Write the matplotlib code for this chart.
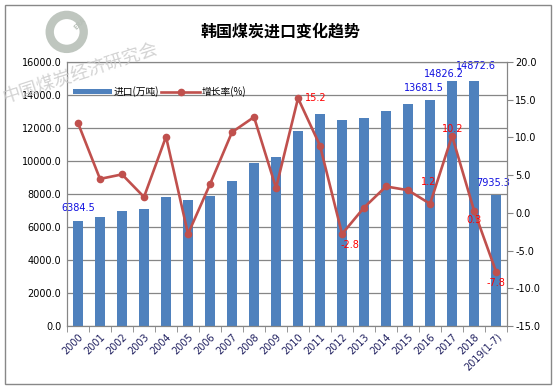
import matplotlib.pyplot as plt
from matplotlib.patches import Ellipse, Rectangle
import numpy as np

plt.rcParams['font.family'] = ['Noto Sans CJK SC', 'DejaVu Sans']

# 数据
years = ['2000', '2001', '2002', '2003', '2004', '2005', '2006', '2007', '2008', '2009',
         '2010', '2011', '2012', '2013', '2014', '2015', '2016', '2017', '2018', '2019(1-7)']
imports = [6384.5, 6600, 6990, 7100, 7820, 7640, 7900, 8790, 9900, 10260,
           11820, 12850, 12480, 12630, 13050, 13460, 13681.5, 14826.2, 14872.6, 7935.3]
growth = [11.9, 4.5, 5.1, 2.1, 10.1, -2.8, 3.8, 10.7, 12.7, 3.3,
          15.2, 8.9, -2.8, 0.7, 3.5, 3.0, 1.2, 10.2, 0.3, -7.8]
imp_labels = {0: '6384.5', 16: '13681.5', 17: '14826.2', 18: '14872.6', 19: '7935.3'}
gr_labels = {10: '15.2', 12: '-2.8', 16: '1.2', 17: '10.2', 18: '0.3', 19: '-7.8'}

bar_c = '#4f81bd'
line_c = '#c0504d'
grid_c = '#868686'

fig = plt.figure(figsize=(5.56, 3.89), dpi=100)
fig.patches.append(Rectangle((0.009, 0.012), 0.982, 0.976, transform=fig.transFigure,
                             fill=False, edgecolor='#888888', linewidth=1.0))

ax = fig.add_axes([0.1205, 0.162, 0.7915, 0.6786])
x = np.arange(len(years))
ax.bar(x, imports, width=0.42, color=bar_c, zorder=2, label='进口(万吨)')
ax.set_ylim(0, 16000)
ax.set_yticks(np.arange(0, 16001, 2000))
ax.set_yticklabels([f'{v:.1f}' for v in np.arange(0, 16001, 2000)], fontsize=7,
                   family='DejaVu Sans')
ax.set_xlim(-0.5, len(years) - 0.5)
ax.set_xticks(np.arange(-0.5, len(years), 1), minor=True)
ax.set_xticks(x)
ax.set_xticklabels(years, rotation=45, ha='right', rotation_mode='anchor',
                   fontsize=7, color='#1f1f5f', family='DejaVu Sans')
ax.tick_params(axis='x', which='major', length=0, pad=4)
ax.tick_params(axis='x', which='minor', length=4, color=grid_c)
ax.tick_params(axis='y', length=0, pad=4)
ax.yaxis.grid(True, color=grid_c, linewidth=0.9, zorder=0)
ax.set_axisbelow(True)
for s in ax.spines.values():
    s.set_color(grid_c)

# 标签偏移 (像素→磅)
imp_off = {0: (0, 13), 16: (-6, 12), 17: (-8, 7), 18: (2, 15), 19: (-3, 12)}
for i, t in imp_labels.items():
    dx, dy = imp_off[i]
    ax.annotate(t, (x[i], imports[i]), xytext=(dx * 0.72, dy * 0.72),
                textcoords='offset points', color='#1010e0', fontsize=7,
                ha='center', va='center', family='DejaVu Sans', zorder=5)

ax2 = ax.twinx()
ax2.plot(x, growth, color=line_c, linewidth=1.9, marker='o', markersize=4.5,
         zorder=3, label='增长率(%)')
ax2.set_ylim(-15, 20)
ax2.set_yticks(np.arange(-15, 20.1, 5))
ax2.set_yticklabels([f'{v:.1f}' for v in np.arange(-15, 20.1, 5)], fontsize=7,
                    family='DejaVu Sans')
ax2.tick_params(axis='y', length=4, color=grid_c, pad=2)
for s in ax2.spines.values():
    s.set_color(grid_c)

gr_off = {10: (18, 0), 12: (8, -11), 16: (-1, 22), 17: (1, 7),
          18: (0, -9), 19: (0, -11)}
for i, t in gr_labels.items():
    dx, dy = gr_off[i]
    ax2.annotate(t, (x[i], growth[i]), xytext=(dx * 0.72, dy * 0.72),
                 textcoords='offset points', color='#ff0000', fontsize=7,
                 ha='center', va='center', family='DejaVu Sans', zorder=5)

h1, l1 = ax.get_legend_handles_labels()
h2, l2 = ax2.get_legend_handles_labels()
ax.legend(h1 + h2, l1 + l2, loc='upper left', bbox_to_anchor=(0.0, 0.93),
          ncol=2, frameon=False, fontsize=7, handlelength=4, handleheight=0.5,
          columnspacing=0.2, handletextpad=0.2, borderaxespad=0.2)

fig.text(0.505, 0.918, '韩国煤炭进口变化趋势', fontsize=11.5, fontweight='bold',
         ha='center', va='center')

# 水印
fig.text(0.145, 0.81, '中国煤炭经济研究会', fontsize=13, color='#c8c8c8', alpha=0.8,
         rotation=18, ha='center', va='center')
fig.patches.append(Ellipse((0.12, 0.918), 34 / 556, 34 / 389, transform=fig.transFigure,
                           facecolor='none', edgecolor='#b8c0b8', linewidth=6,
                           alpha=0.9))
fig.text(0.143, 0.94, 'ERA', fontsize=5, color='#b8c0b8', rotation=45,
         ha='center', va='center', fontweight='bold')

fig.savefig('out.png', dpi=100)
